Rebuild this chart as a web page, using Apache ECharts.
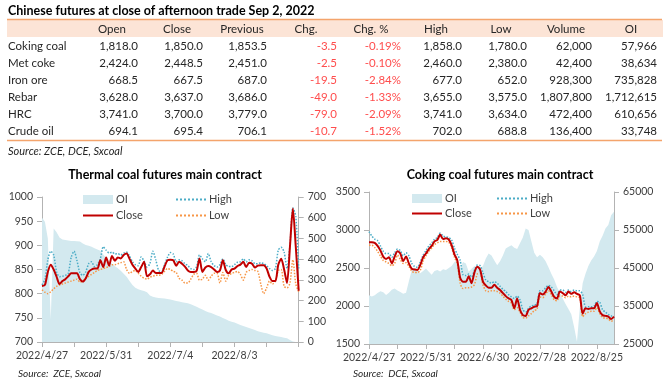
<!DOCTYPE html>
<html><head><meta charset="utf-8">
<script src="https://cdn.jsdelivr.net/npm/echarts@6/dist/echarts.min.js"></script>
<style>html,body{margin:0;padding:0;background:#fff}#c{width:670px;height:380px}</style>
</head><body><div id="c"></div><script>
// ---------- table data ----------
const tableTitle = 'Chinese futures at close of afternoon trade Sep 2, 2022';
const tableHeaders = ['Open','Close','Previous','Chg.','Chg. %','High','Low','Volume','OI'];
const products = ['Coking coal','Met coke','Iron ore','Rebar','HRC','Crude oil'];
const openP  = [1818.0, 2424.0, 668.5, 3628.0, 3741.0, 694.1];
const closeP = [1850.0, 2448.5, 667.5, 3637.0, 3700.0, 695.4];
const prevP  = [1853.5, 2451.0, 687.0, 3686.0, 3779.0, 706.1];
const chg    = [-3.5, -2.5, -19.5, -49.0, -79.0, -10.7];
const chgPct = [-0.19, -0.10, -2.84, -1.33, -2.09, -1.52];
const highP  = [1858.0, 2460.0, 677.0, 3655.0, 3741.0, 702.0];
const lowP   = [1780.0, 2380.0, 652.0, 3575.0, 3634.0, 688.8];
const volume = [62000, 42400, 928300, 1807800, 472400, 136400];
const openInt = [57966, 38634, 735828, 1712615, 610656, 33748];
const tableSource = 'Source: ZCE, DCE, Sxcoal';

// ---------- thermal coal chart ----------
const thermalTitle = 'Thermal coal futures main contract';
const thermalSource = 'Source:  ZCE, Sxcoal';
const thermalDates = [
'2022/4/27','2022/4/28','2022/4/29',
'2022/5/5','2022/5/6','2022/5/7','2022/5/9','2022/5/10','2022/5/11','2022/5/12','2022/5/13','2022/5/16','2022/5/17','2022/5/18','2022/5/19','2022/5/20','2022/5/23','2022/5/24','2022/5/25','2022/5/26','2022/5/27','2022/5/30','2022/5/31',
'2022/6/1','2022/6/6','2022/6/7','2022/6/8','2022/6/9','2022/6/10','2022/6/13','2022/6/14','2022/6/15','2022/6/16','2022/6/17','2022/6/20','2022/6/21','2022/6/22','2022/6/23','2022/6/24','2022/6/27','2022/6/28','2022/6/29','2022/6/30',
'2022/7/1','2022/7/4','2022/7/5','2022/7/6','2022/7/7','2022/7/8','2022/7/11','2022/7/12','2022/7/13','2022/7/14','2022/7/15','2022/7/18','2022/7/19','2022/7/20','2022/7/21','2022/7/22','2022/7/25','2022/7/26','2022/7/27','2022/7/28','2022/7/29',
'2022/8/1','2022/8/2','2022/8/3','2022/8/4','2022/8/5','2022/8/8','2022/8/9','2022/8/10','2022/8/11','2022/8/12','2022/8/15','2022/8/16','2022/8/17','2022/8/18','2022/8/19','2022/8/22','2022/8/23','2022/8/24','2022/8/25','2022/8/26','2022/8/29','2022/8/30','2022/8/31',
'2022/9/1','2022/9/2'];
const thermalClose = [
816,818,845,860,850,835,820,826,830,836,
842,842,842,830,825,832,845,850,852,852,
869,855,875,858,878,868,875,873,880,883,
872,860,852,845,855,866,836,840,848,843,
843,843,856,869,870,869,858,866,862,856,
848,845,845,847,873,845,854,857,855,850,
845,848,869,849,842,850,852,857,860,866,
855,864,862,854,858,859,859,852,835,826,
826,860,872,850,822,897,976,897,806];
const thermalHigh = [
818,830,870,888,880,845,835,836,838,842,
875,888,868,843,838,845,862,866,856,860,
872,897,890,884,886,882,883,880,884,886,
878,866,860,858,876,868,855,862,888,870,
848,845,860,875,885,882,866,870,868,862,
858,852,850,856,880,872,866,883,866,858,
855,860,872,860,856,856,860,865,866,872,
866,870,868,862,862,864,862,858,852,848,
852,890,896,886,852,900,978,960,850];
const thermalLow = [
808,803,800,804,810,815,818,820,822,824,
826,828,830,824,826,832,836,840,844,848,
850,852,854,856,860,860,862,864,866,850,
842,846,848,842,836,832,830,834,836,838,
838,840,846,852,850,846,844,832,828,822,
822,830,840,842,828,830,838,828,836,842,
842,822,844,826,838,842,844,846,840,828,
844,848,850,848,846,820,800,812,826,820,
826,848,850,815,812,822,870,820,804];
const thermalOI = [
600,580,500,110,548,530,505,495,492,490,
488,487,486,485,475,468,465,460,452,446,
440,422,405,390,378,366,356,344,330,315,
295,275,262,255,250,246,240,225,218,215,
213,211,210,208,205,202,198,195,192,189,
187,182,176,170,163,157,150,144,140,134,
128,123,116,110,103,98,94,88,82,77,
72,67,63,58,52,48,45,42,38,33,
29,26,24,21,18,10,3,0,0];

// ---------- coking coal chart ----------
const cokingTitle = 'Coking coal futures main contract';
const cokingSource = 'Source:  DCE, Sxcoal';
const cokingDates = [
'2022/4/27','2022/4/28','2022/4/29',
'2022/5/6','2022/5/9','2022/5/10','2022/5/11','2022/5/12','2022/5/13','2022/5/16','2022/5/17','2022/5/18','2022/5/19','2022/5/20','2022/5/23','2022/5/24','2022/5/25','2022/5/26','2022/5/27','2022/5/30','2022/5/31',
'2022/6/1','2022/6/2','2022/6/7','2022/6/8','2022/6/9','2022/6/10','2022/6/13','2022/6/14','2022/6/15','2022/6/16','2022/6/17','2022/6/20','2022/6/21','2022/6/22','2022/6/23','2022/6/24','2022/6/27','2022/6/28','2022/6/29','2022/6/30',
'2022/7/1','2022/7/4','2022/7/5','2022/7/6','2022/7/7','2022/7/8','2022/7/11','2022/7/12','2022/7/13','2022/7/14','2022/7/15','2022/7/18','2022/7/19','2022/7/20','2022/7/21','2022/7/22','2022/7/25','2022/7/26','2022/7/27','2022/7/28','2022/7/29',
'2022/8/1','2022/8/2','2022/8/3','2022/8/4','2022/8/5','2022/8/8','2022/8/9','2022/8/10','2022/8/11','2022/8/12','2022/8/15','2022/8/16','2022/8/17','2022/8/18','2022/8/19','2022/8/22','2022/8/23','2022/8/24','2022/8/25','2022/8/26','2022/8/29','2022/8/30','2022/8/31',
'2022/9/1','2022/9/2'];
const cokingClose = [
2840,2840,2830,2790,2730,2650,2620,2640,2560,2650,
2720,2690,2590,2650,2560,2490,2480,2475,2540,2640,
2690,2750,2790,2850,2870,2940,2880,2890,2875,2800,
2680,2600,2370,2320,2320,2390,2300,2440,2515,2480,
2320,2270,2240,2240,2280,2240,2210,2170,2130,2100,
2080,1970,2100,1950,1880,1870,1950,1970,1990,2000,
2170,2150,2190,2250,2190,2120,2100,2190,2170,2140,
2190,2160,2180,2160,2140,1900,1970,1960,1970,1970,
2040,1930,1880,1870,1860,1830,1860];
const cokingHigh = [
2980,2920,2880,2860,2790,2720,2690,2690,2640,2700,
2750,2730,2660,2700,2660,2560,2520,2510,2580,2670,
2730,2790,2830,2880,2900,2960,2920,2910,2900,2870,
2760,2680,2600,2410,2400,2420,2380,2470,2540,2530,
2440,2340,2320,2300,2320,2300,2260,2220,2190,2150,
2120,2100,2130,2080,1950,1920,1970,2000,2010,2030,
2200,2200,2240,2270,2250,2200,2150,2210,2210,2180,
2210,2190,2210,2200,2200,2150,1990,1990,1990,2000,
2060,2050,1950,1920,1890,1870,1870];
const cokingLow = [
2800,2800,2770,2720,2660,2600,2580,2560,2530,2560,
2670,2610,2560,2570,2520,2460,2440,2440,2470,2590,
2660,2720,2760,2810,2830,2850,2850,2850,2840,2770,
2640,2560,2300,2230,2240,2240,2250,2280,2420,2430,
2280,2200,2190,2200,2200,2190,2170,2130,2090,2060,
2040,1950,1980,1920,1850,1840,1870,1900,1940,1960,
2120,2110,2160,2200,2150,2080,2070,2130,2130,2110,
2130,2120,2130,2120,2110,1860,1900,1920,1930,1930,
1980,1900,1850,1840,1830,1800,1820];
const cokingOI = [
37800,37500,37800,38400,38900,38600,37900,38500,39300,39600,
39100,38700,38200,38500,41500,44400,45100,44300,43600,44200,
44900,44000,43200,44200,44500,44100,44700,44500,45000,45500,
46600,47100,45000,46600,46200,44000,44800,45500,45000,44800,
45500,47500,48800,48300,47000,45700,46800,48300,50100,50600,
51000,50300,50000,51500,53000,55400,55000,52000,49000,47800,
48500,47800,46800,45200,43500,42000,40000,38500,37000,35500,
34200,32800,29500,25600,34500,41000,43500,45500,47000,48000,
49500,52000,53500,55400,56300,58900,59800];

// ---------- styles ----------
const FONT = 'Lato, "Open Sans", sans-serif';
const TXT = '#262626';
const AX = '#404040';
const AXLINE = '#b3b3b3';
const C_OI = '#d3e9ef', C_CLOSE = '#c00000', C_HIGH = '#4bacc6', C_LOW = '#f79646';

function fmt(v, d) {
  return v.toLocaleString('en-US', {minimumFractionDigits: d, maximumFractionDigits: d});
}

// ---------- table graphics ----------
const colRight = [138, 203, 267, 337, 401, 462, 527, 592, 657];
const headCenter = [112, 177, 242, 306, 371, 436, 501, 566, 631];
const rowY0 = 46, rowH = 17.1;
const g = [];
g.push({type:'rect', shape:{x:7, y:20, width:656, height:17}, style:{fill:'#fce4d6'}, silent:true});
g.push({type:'line', shape:{x1:7, y1:19.5, x2:662, y2:19.5}, style:{stroke:'#f4a46c', lineWidth:1.5}});
g.push({type:'line', shape:{x1:7, y1:140.5, x2:662, y2:140.5}, style:{stroke:'#f4a46c', lineWidth:1.5}});
g.push({type:'text', x:8, y:11, style:{text:tableTitle, fontFamily:FONT, fontSize:12.5, fontWeight:'bold', fill:'#000', verticalAlign:'middle'}});
tableHeaders.forEach((h, j) => g.push({type:'text', x:headCenter[j], y:29, style:{text:h, fontFamily:FONT, fontSize:11.5, fill:TXT, align:'center', verticalAlign:'middle'}}));
products.forEach((p, i) => {
  const y = rowY0 + i * rowH;
  const cells = [fmt(openP[i],1), fmt(closeP[i],1), fmt(prevP[i],1), fmt(chg[i],1), chgPct[i].toFixed(2) + '%',
                 fmt(highP[i],1), fmt(lowP[i],1), fmt(volume[i],0), fmt(openInt[i],0)];
  g.push({type:'text', x:8, y:y, style:{text:p, fontFamily:FONT, fontSize:11.5, fill:TXT, verticalAlign:'middle'}});
  cells.forEach((c, j) => g.push({type:'text', x:colRight[j], y:y, style:{text:c, fontFamily:FONT, fontSize:11.5,
    fill:(j === 3 || j === 4) ? '#ff4d4d' : TXT, align:'right', verticalAlign:'middle'}}));
});
g.push({type:'text', x:8, y:151, style:{text:tableSource, fontFamily:FONT, fontSize:11, fontStyle:'italic', fill:TXT, verticalAlign:'middle'}});
// chart titles and sources
g.push({type:'text', x:165, y:175, style:{text:thermalTitle, fontFamily:FONT, fontSize:12.5, fontWeight:'bold', fill:'#000', align:'center', verticalAlign:'middle'}});
g.push({type:'text', x:500, y:175, style:{text:cokingTitle, fontFamily:FONT, fontSize:12.5, fontWeight:'bold', fill:'#000', align:'center', verticalAlign:'middle'}});
g.push({type:'text', x:18, y:374, style:{text:thermalSource, fontFamily:FONT, fontSize:10, fontStyle:'italic', fill:TXT, verticalAlign:'middle'}});
g.push({type:'text', x:353, y:374, style:{text:cokingSource, fontFamily:FONT, fontSize:10, fontStyle:'italic', fill:TXT, verticalAlign:'middle'}});

// ---------- axes ----------
function xAx(gridIndex, data, labelEvery, tickEvery, lastIdx) {
  return {type:'category', gridIndex, data, boundaryGap:false,
    axisLine:{show:true, onZero:false, lineStyle:{color:AXLINE}},
    axisTick:{show:true, length:5, interval:(i) => i % tickEvery === 0, lineStyle:{color:AXLINE}},
    axisLabel:{interval:(i) => i % labelEvery === 0 && i < lastIdx, color:AX, fontFamily:FONT, fontSize:10.5, margin:8},
    splitLine:{show:false}};
}
function yAx(gridIndex, pos, min, max, interval) {
  return {type:'value', gridIndex, position:pos, min, max, interval,
    axisLine:{show:true, lineStyle:{color:AXLINE}},
    axisTick:{show:true, length:5, lineStyle:{color:AXLINE}},
    axisLabel:{color:AX, fontFamily:FONT, fontSize:10.5, margin:9, formatter:(v) => String(v)},
    splitLine:{show:false}};
}
function lineS(name, xi, yi, data, color, width, type, z) {
  return {name, type:'line', xAxisIndex:xi, yAxisIndex:yi, data, symbol:'none', smooth:0.25, color,
    lineStyle:{color, width, type}, z};
}
function areaS(name, xi, yi, data) {
  return {name, type:'line', xAxisIndex:xi, yAxisIndex:yi, data, symbol:'none', color:C_OI,
    lineStyle:{width:0, color:C_OI}, areaStyle:{color:C_OI, opacity:1}, z:1};
}
function legendBox(left, top, names, gap) {
  return {left, top, orient:'vertical', itemWidth:30, itemHeight:9, itemGap:gap, data:names, selectedMode:false,
    itemStyle:{opacity:0},
    textStyle:{color:AX, fontFamily:FONT, fontSize:11, padding:[0,0,0,-2]}};
}
const oiLegendItem = {name:'OI', icon:'rect', itemStyle:{opacity:1, color:C_OI}};

const option = {
  animation:false,
  backgroundColor:'#fff',
  graphic:g,
  grid:[
    {left:42, top:197, width:256.7, height:145},
    {left:369, top:192, width:245, height:152}
  ],
  xAxis:[
    xAx(0, thermalDates, 22, 11, thermalDates.length - 1),
    xAx(1, cokingDates, 20, 10, cokingDates.length - 1)
  ],
  yAxis:[
    yAx(0, 'left', 700, 1000, 50),
    yAx(0, 'right', 0, 700, 100),
    yAx(1, 'left', 1500, 3500, 500),
    yAx(1, 'right', 25000, 65000, 10000)
  ],
  legend:[
    legendBox(77, 189, [oiLegendItem, 'Close'], 5),
    legendBox(170, 189, ['High', 'Low'], 5),
    legendBox(406, 188, [oiLegendItem, 'Close'], 4),
    legendBox(491, 188, ['High', 'Low'], 4)
  ],
  series:[
    areaS('OI', 0, 1, thermalOI),
    lineS('High', 0, 0, thermalHigh, C_HIGH, 1.5, 'dotted', 3),
    lineS('Low', 0, 0, thermalLow, C_LOW, 1.5, 'dotted', 3),
    lineS('Close', 0, 0, thermalClose, C_CLOSE, 2, 'solid', 4),
    areaS('OI', 1, 3, cokingOI),
    lineS('High', 1, 2, cokingHigh, C_HIGH, 1.5, 'dotted', 3),
    lineS('Low', 1, 2, cokingLow, C_LOW, 1.5, 'dotted', 3),
    lineS('Close', 1, 2, cokingClose, C_CLOSE, 2, 'solid', 4)
  ]
};
const chart = echarts.init(document.getElementById('c'), null, {renderer:'canvas'});
chart.setOption(option);
</script></body></html>
